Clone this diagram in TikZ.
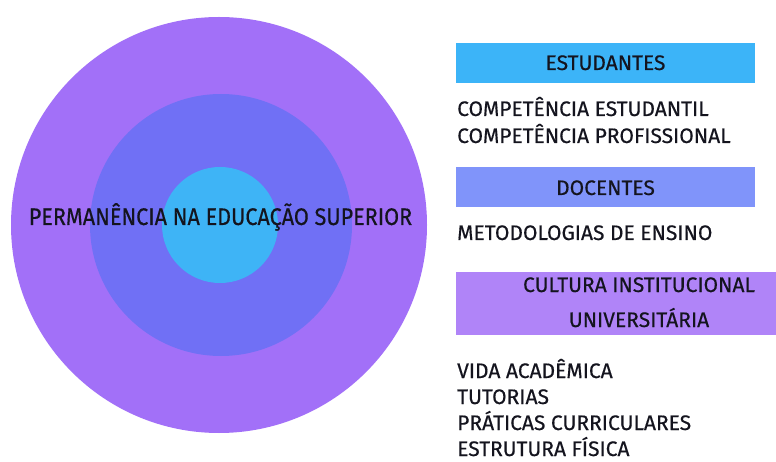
\documentclass[tikz,border=0pt]{standalone}
\usepackage{fontspec}
\setmainfont{Fira Sans}[FakeStretch=1.0,FakeBold=0.4]
\newfontfamily\mainf{Fira Sans}[FakeStretch=0.9,FakeBold=0.4]
\definecolor{outerc}{RGB}{162,112,248}
\definecolor{midc}{RGB}{112,112,245}
\definecolor{innerc}{RGB}{62,180,246}
\definecolor{boxa}{RGB}{60,180,248}
\definecolor{boxb}{RGB}{128,148,250}
\definecolor{boxc}{RGB}{176,132,248}
\definecolor{txt}{RGB}{20,20,30}
\begin{document}
\begin{tikzpicture}[x=1pt,y=-1pt,
  lbl/.style={text=txt,font=\fontsize{21}{35}\selectfont,inner sep=0pt},
  item/.style={lbl,anchor=base west}]
\useasboundingbox (0,0) rectangle (776,462);
\fill[white] (0,0) rectangle (776,462);
\node[circle,fill=outerc,minimum size=416pt,inner sep=0pt] (outer) at (219,225) {};
\node[circle,fill=midc,minimum size=262pt,inner sep=0pt] (mid) at (221,225) {};
\node[circle,fill=innerc,minimum size=116pt,inner sep=0pt] (inner) at (220,225) {};
\node[text=txt,font=\mainf\fontsize{24}{28}\selectfont,inner sep=0pt,anchor=base] (main) at (220.5,225) {PERMANÊNCIA NA EDUCAÇÃO SUPERIOR};
% boxes
\fill[boxa] (456,43) rectangle (755,83);
\node[lbl,anchor=base] (est) at (605.5,70) {ESTUDANTES};
\node[item] (i1) at (457,116) {COMPETÊNCIA ESTUDANTIL};
\node[item] (i2) at (457,143) {COMPETÊNCIA PROFISSIONAL};
\fill[boxb] (456,167) rectangle (755,207);
\node[lbl,anchor=base] (doc) at (605.5,195) {DOCENTES};
\node[item] (i3) at (457,240) {METODOLOGIAS DE ENSINO};
\fill[boxc] (456,272) rectangle (776,335);
\node[lbl,anchor=base] (cul1) at (639,292) {CULTURA INSTITUCIONAL};
\node[lbl,anchor=base] (cul2) at (639,327) {UNIVERSITÁRIA};
\node[item] (i4) at (457,378) {VIDA ACADÊMICA};
\node[item] (i5) at (457,404) {TUTORIAS};
\node[item] (i6) at (457,430) {PRÁTICAS CURRICULARES};
\node[item] (i7) at (457,456) {ESTRUTURA FÍSICA};
\end{tikzpicture}
\end{document}
